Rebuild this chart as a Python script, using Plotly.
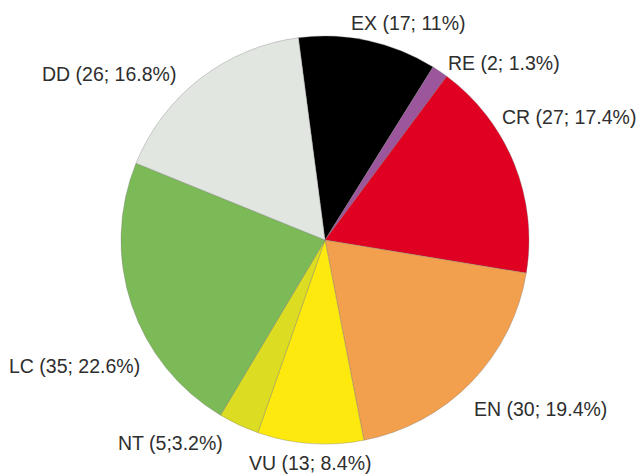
import math
import plotly.graph_objects as go

categories = ["EX", "RE", "CR", "EN", "VU", "NT", "LC", "DD"]
counts = [17, 2, 27, 30, 13, 5, 35, 26]
label_texts = ["EX (17; 11%)", "RE (2; 1.3%)", "CR (27; 17.4%)", "EN (30; 19.4%)",
               "VU (13; 8.4%)", "NT (5;3.2%)", "LC (35; 22.6%)", "DD (26; 16.8%)"]
colors = ["#000000", "#9c569c", "#e00022", "#f2a04e", "#fde90e", "#dcdc22", "#7cb957", "#e1e6e0"]

# manual label nudges (pixels) applied after placing each label beside its slice
label_nudges = [(-21, 5), (0, 0), (-23, -43), (-6, 7), (0, -3), (-10, -4), (20, 58), (-16, 3)]

W, H = 637, 474
cx, cy, r = 325, 240, 204
rotation = -7.5
gap = 10

fig = go.Figure(go.Pie(
    labels=categories,
    values=counts,
    textinfo="none",
    sort=False,
    direction="clockwise",
    rotation=rotation,
    marker=dict(colors=colors, line=dict(color="rgba(110,110,110,0.55)", width=0.6)),
    domain=dict(x=[(cx - r) / W, (cx + r) / W], y=[(H - cy - r) / H, (H - cy + r) / H]),
    showlegend=False,
    hoverinfo="label+value+percent",
))

total = sum(counts)
cum = 0
annotations = []
for v, txt, (dx, dy) in zip(counts, label_texts, label_nudges):
    mid = math.radians(rotation + (cum + v / 2) / total * 360)
    cum += v
    s, c = math.sin(mid), math.cos(mid)
    R = r + gap
    px = cx + R * s + dx
    py = cy - R * c + dy
    xa = "left" if s > 0.15 else ("right" if s < -0.15 else "center")
    ya = "bottom" if c > 0.9 else ("top" if c < -0.6 else "middle")
    annotations.append(dict(
        x=px / W, y=1 - py / H, xref="paper", yref="paper",
        text=txt, showarrow=False, xanchor=xa, yanchor=ya,
        font=dict(family="Liberation Sans, Arial, sans-serif", size=19.5, color="#2e2e2e"),
    ))

fig.update_layout(
    width=W, height=H,
    margin=dict(l=0, r=0, t=0, b=0),
    paper_bgcolor="white",
    plot_bgcolor="white",
    annotations=annotations,
)

fig.write_html("out.html", config={"displayModeBar": False},
               post_script="document.body.style.margin='0px';")
